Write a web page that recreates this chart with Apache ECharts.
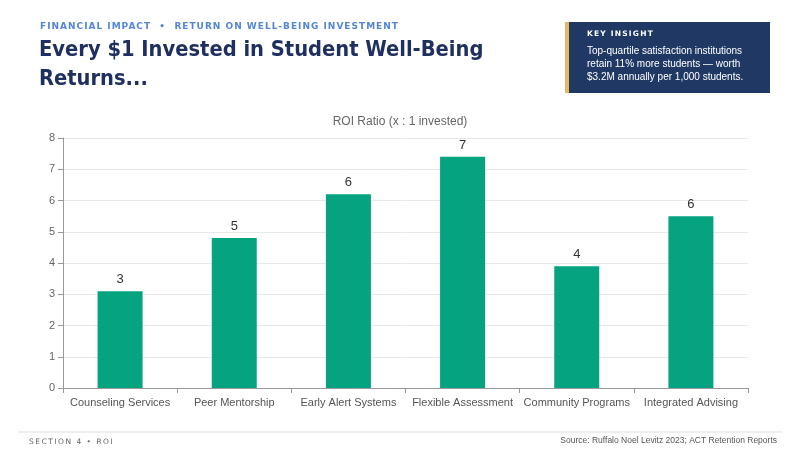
<!DOCTYPE html>
<html>
<head>
<meta charset="utf-8">
<script src="https://cdn.jsdelivr.net/npm/echarts@6/dist/echarts.min.js"></script>
<style>
html,body{margin:0;padding:0;background:#fff;}
#wrap{position:relative;width:800px;height:450px;}
#c{width:800px;height:450px;}
.ov{position:absolute;white-space:nowrap;line-height:1;}
#kicker{left:40px;top:21px;font:bold 9px 'DejaVu Sans';color:#5586d4;letter-spacing:1.0px;}
#kih{left:587px;top:29px;font:bold 7.5px 'DejaVu Sans';color:#fff;letter-spacing:1.2px;}
#sec{left:29px;top:437px;font:7.5px 'DejaVu Sans';color:#666;letter-spacing:1.5px;}
</style>
</head>
<body>
<div id="wrap">
<div id="c"></div>
<div class="ov" id="kicker">FINANCIAL IMPACT&nbsp; •&nbsp; RETURN ON WELL-BEING INVESTMENT</div>
<div class="ov" id="kih">KEY INSIGHT</div>
<div class="ov" id="sec">SECTION 4 • ROI</div>
</div>
<script>
const categories = ['Counseling Services','Peer Mentorship','Early Alert Systems','Flexible Assessment','Community Programs','Integrated Advising'];
const roiValues = [3.1, 4.8, 6.2, 7.4, 3.9, 5.5];
const yTicks = [0,1,2,3,4,5,6,7,8];

const chart = echarts.init(document.getElementById('c'));
chart.setOption({
  animation:false,
  backgroundColor:'#ffffff',
  title:{
    text:'ROI Ratio (x : 1 invested)',
    left:'center', top:111,
    textStyle:{fontFamily:'Liberation Sans', fontSize:12, fontWeight:'normal', color:'#666'}
  },
  grid:{left:63, right:52, top:138, bottom:62},
  xAxis:{
    type:'category', data:categories,
    axisLine:{lineStyle:{color:'#999'}},
    axisTick:{show:true, lineStyle:{color:'#999'}},
    axisLabel:{fontFamily:'Liberation Sans', fontSize:11, color:'#555', interval:0, margin:9}
  },
  yAxis:{
    type:'value', min:yTicks[0], max:yTicks[yTicks.length-1], interval:1,
    axisLine:{show:true, lineStyle:{color:'#999'}},
    axisTick:{show:true, lineStyle:{color:'#999'}},
    axisLabel:{fontFamily:'Liberation Sans', fontSize:11, color:'#666', margin:8},
    splitLine:{lineStyle:{color:'#e8e8e8'}}
  },
  series:[{
    type:'bar', data:roiValues, barWidth:45,
    itemStyle:{color:'#05a37f'},
    label:{show:true, position:'top', distance:5, fontFamily:'Liberation Sans', fontSize:13, color:'#333',
      formatter:p=>String(Math.round(p.value))}
  }],
  graphic:[
    {type:'text', left:39, top:36, style:{text:'Every $1 Invested in Student Well-Being\nReturns...', fontFamily:'DejaVu Sans Condensed', fontWeight:'bold', fontSize:21.7, lineHeight:29, fill:'#1f3060'}},
    {type:'rect', shape:{x:565, y:22, width:205, height:71}, style:{fill:'#1f3864'}},
    {type:'rect', shape:{x:565, y:22, width:4, height:71}, style:{fill:'#e8b860'}},
    {type:'text', left:587, top:45, style:{text:'Top-quartile satisfaction institutions\nretain 11% more students — worth\n$3.2M annually per 1,000 students.', fontFamily:'Liberation Sans', fontSize:10, lineHeight:12.7, fill:'#ffffff'}},
    {type:'line', shape:{x1:18, y1:432, x2:782, y2:432}, style:{stroke:'#dddddd', lineWidth:1}},
    {type:'text', right:23, top:436, style:{text:'Source: Ruffalo Noel Levitz 2023; ACT Retention Reports', fontFamily:'Liberation Sans', fontSize:8.5, fill:'#555'}}
  ]
});
</script>
</body>
</html>
